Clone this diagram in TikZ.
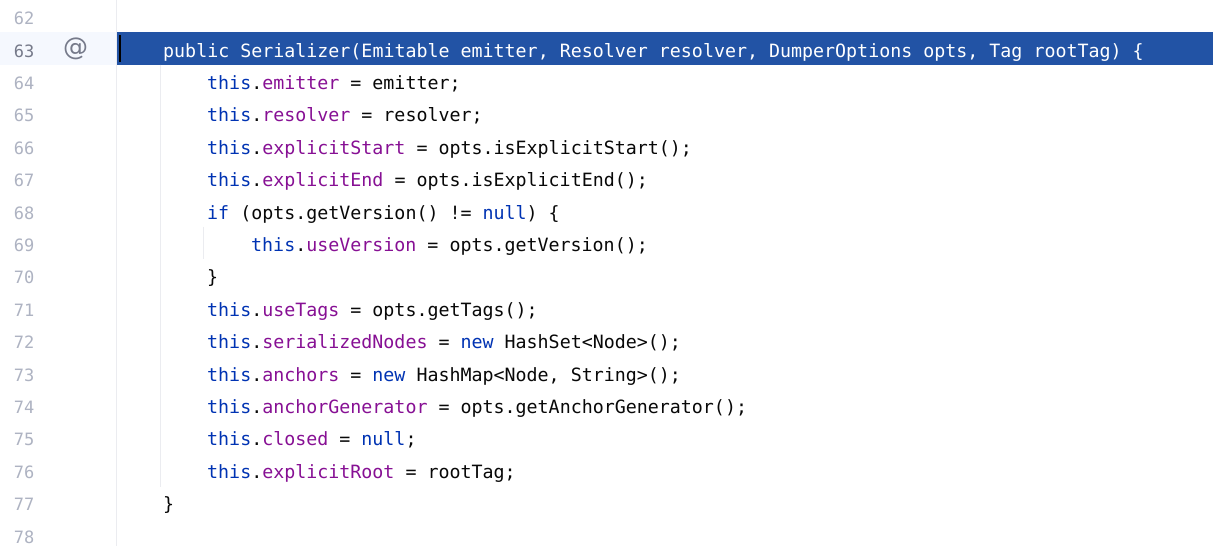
\documentclass[tikz,border=0pt]{standalone}
\usepackage{fontspec}
\setmonofont{DejaVu Sans Mono}
\newfontfamily\iconfont{DejaVu Sans}
\usepackage{tikz}
\usetikzlibrary{positioning, calc}

\definecolor{kwblue}{HTML}{0033B3}
\definecolor{fldpurple}{HTML}{871094}
\definecolor{plaintext}{HTML}{080808}
\definecolor{lnum}{HTML}{AEB3C2}
\definecolor{lnumcur}{HTML}{767A8A}
\definecolor{gutterbg}{HTML}{F5F8FE}
\definecolor{guide}{HTML}{EBECF0}
\definecolor{selblue}{HTML}{2253A5}

\newcommand{\kw}[1]{\textcolor{kwblue}{#1}}
\newcommand{\fld}[1]{\textcolor{fldpurple}{#1}}

\tikzset{
  codeline/.style={anchor=base west, inner sep=0pt, text=plaintext,
    font=\ttfamily\fontsize{18.3}{20}\selectfont},
  linenum/.style={anchor=base east, inner sep=0pt,
    font=\ttfamily\fontsize{17}{19}\selectfont},
}

\begin{document}
\begin{tikzpicture}[x=1pt, y=1pt]
\useasboundingbox (0,0) rectangle (1213,-546);
\fill[white] (0,0) rectangle (1213,-546);

% Current line: gutter tint, selection bar and caret
\fill[gutterbg] (0,-32.3) rectangle (116.7,-64.7);
\fill[selblue] (116.7,-32.3) rectangle (1213,-64.7);
\fill[black] (118.6,-35) rectangle (120.6,-61.7);

% Gutter separator and indent guides
\draw[guide, line width=1pt] (116.7,0) -- (116.7,-546);
\draw[guide, line width=1pt] (160,-64.7) -- (160,-486.5);
\draw[guide, line width=1pt] (203.5,-226.7) -- (203.5,-259.1);

% Line numbers
\foreach \n in {62,...,78} {
  \ifnum\n=63 \def\lc{lnumcur}\else\def\lc{lnum}\fi
  \node[linenum, text=\lc] (ln\n) at (34.5,{-24.7-32.4*(\n-62)}) {\n};
}

% Gutter icon
\node[inner sep=0pt, text=lnumcur, font=\iconfont\fontsize{25}{27}\selectfont] (icon) at (75.5,-48.5) {@};

% Source lines
\node[codeline, text=white] (c63) at (163,-57.1) {public Serializer(Emitable emitter, Resolver resolver, DumperOptions opts, Tag rootTag) \{};
\node[codeline] (c64) at (207,-89.5) {\kw{this}.\fld{emitter} = emitter;};
\node[codeline] (c65) at (207,-121.9) {\kw{this}.\fld{resolver} = resolver;};
\node[codeline] (c66) at (207,-154.3) {\kw{this}.\fld{explicitStart} = opts.isExplicitStart();};
\node[codeline] (c67) at (207,-186.7) {\kw{this}.\fld{explicitEnd} = opts.isExplicitEnd();};
\node[codeline] (c68) at (207,-219.1) {\kw{if} (opts.getVersion() != \kw{null}) \{};
\node[codeline] (c69) at (251,-251.5) {\kw{this}.\fld{useVersion} = opts.getVersion();};
\node[codeline] (c70) at (207,-283.9) {\}};
\node[codeline] (c71) at (207,-316.3) {\kw{this}.\fld{useTags} = opts.getTags();};
\node[codeline] (c72) at (207,-348.7) {\kw{this}.\fld{serializedNodes} = \kw{new} HashSet<Node>();};
\node[codeline] (c73) at (207,-381.1) {\kw{this}.\fld{anchors} = \kw{new} HashMap<Node, String>();};
\node[codeline] (c74) at (207,-413.5) {\kw{this}.\fld{anchorGenerator} = opts.getAnchorGenerator();};
\node[codeline] (c75) at (207,-445.9) {\kw{this}.\fld{closed} = \kw{null};};
\node[codeline] (c76) at (207,-478.3) {\kw{this}.\fld{explicitRoot} = rootTag;};
\node[codeline] (c77) at (163,-510.7) {\}};
\end{tikzpicture}
\end{document}
